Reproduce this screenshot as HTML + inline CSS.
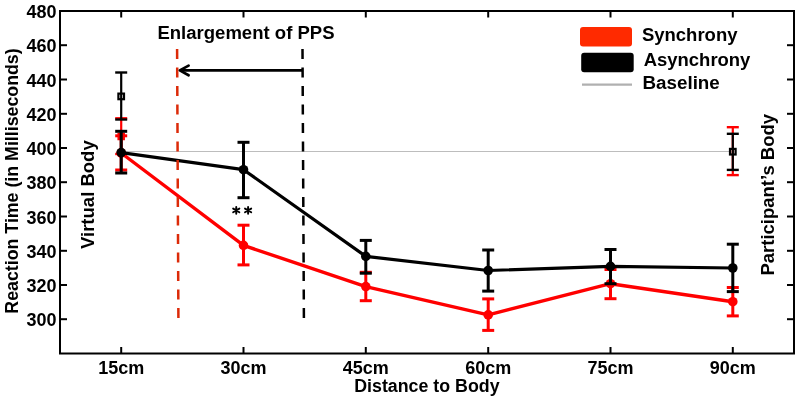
<!DOCTYPE html><html><head><meta charset="utf-8"><style>html,body{margin:0;padding:0;background:#fff;}svg{display:block;will-change:transform;}text{font-family:"Liberation Sans",sans-serif;font-weight:bold;font-size:18px;fill:#000;}</style></head><body>
<svg width="800" height="401" viewBox="0 0 800 401">
<rect x="0" y="0" width="800" height="401" fill="#fff"/>
<line x1="121.2" y1="151.5" x2="729.5" y2="151.5" stroke="#bdbdbd" stroke-width="1"/>
<line x1="121.2" y1="118.3" x2="121.2" y2="154.0" stroke="#ff0000" stroke-width="2.2"/><line x1="115.2" y1="118.3" x2="127.2" y2="118.3" stroke="#ff0000" stroke-width="2.4"/><line x1="115.2" y1="154.0" x2="127.2" y2="154.0" stroke="#ff0000" stroke-width="2.4"/>
<rect x="118.2" y="133.5" width="6" height="6" fill="#ff0000" stroke="#ff0000" stroke-width="1.5"/>
<line x1="732.8" y1="127.2" x2="732.8" y2="175.1" stroke="#ff0000" stroke-width="2.2"/><line x1="726.8" y1="127.2" x2="738.8" y2="127.2" stroke="#ff0000" stroke-width="2.4"/><line x1="726.8" y1="175.1" x2="738.8" y2="175.1" stroke="#ff0000" stroke-width="2.4"/>
<polyline points="121.2,153.0 243.5,245.4 365.8,286.6 488.2,314.9 610.5,283.7 732.8,301.7" fill="none" stroke="#ff0000" stroke-width="3.4" stroke-linejoin="round"/>
<line x1="121.2" y1="135.8" x2="121.2" y2="170.0" stroke="#ff0000" stroke-width="3.0"/><line x1="115.2" y1="135.8" x2="127.2" y2="135.8" stroke="#ff0000" stroke-width="3.0"/><line x1="115.2" y1="170.0" x2="127.2" y2="170.0" stroke="#ff0000" stroke-width="3.0"/>
<circle cx="121.2" cy="153.0" r="4.8" fill="#ff0000"/>
<line x1="243.5" y1="225.2" x2="243.5" y2="264.9" stroke="#ff0000" stroke-width="3.0"/><line x1="237.5" y1="225.2" x2="249.5" y2="225.2" stroke="#ff0000" stroke-width="3.0"/><line x1="237.5" y1="264.9" x2="249.5" y2="264.9" stroke="#ff0000" stroke-width="3.0"/>
<circle cx="243.5" cy="245.4" r="4.8" fill="#ff0000"/>
<line x1="365.8" y1="272.3" x2="365.8" y2="300.7" stroke="#ff0000" stroke-width="3.0"/><line x1="359.8" y1="272.3" x2="371.8" y2="272.3" stroke="#ff0000" stroke-width="3.0"/><line x1="359.8" y1="300.7" x2="371.8" y2="300.7" stroke="#ff0000" stroke-width="3.0"/>
<circle cx="365.8" cy="286.6" r="4.8" fill="#ff0000"/>
<line x1="488.2" y1="298.9" x2="488.2" y2="330.4" stroke="#ff0000" stroke-width="3.0"/><line x1="482.2" y1="298.9" x2="494.2" y2="298.9" stroke="#ff0000" stroke-width="3.0"/><line x1="482.2" y1="330.4" x2="494.2" y2="330.4" stroke="#ff0000" stroke-width="3.0"/>
<circle cx="488.2" cy="314.9" r="4.8" fill="#ff0000"/>
<line x1="610.5" y1="269.5" x2="610.5" y2="298.7" stroke="#ff0000" stroke-width="3.0"/><line x1="604.5" y1="269.5" x2="616.5" y2="269.5" stroke="#ff0000" stroke-width="3.0"/><line x1="604.5" y1="298.7" x2="616.5" y2="298.7" stroke="#ff0000" stroke-width="3.0"/>
<circle cx="610.5" cy="283.7" r="4.8" fill="#ff0000"/>
<line x1="732.8" y1="287.5" x2="732.8" y2="315.9" stroke="#ff0000" stroke-width="3.0"/><line x1="726.8" y1="287.5" x2="738.8" y2="287.5" stroke="#ff0000" stroke-width="3.0"/><line x1="726.8" y1="315.9" x2="738.8" y2="315.9" stroke="#ff0000" stroke-width="3.0"/>
<circle cx="732.8" cy="301.7" r="4.8" fill="#ff0000"/>
<polyline points="121.2,152.6 243.5,169.7 365.8,256.4 488.2,270.5 610.5,266.4 732.8,268.0" fill="none" stroke="#000" stroke-width="3.2" stroke-linejoin="round"/>
<line x1="121.2" y1="131.3" x2="121.2" y2="173.0" stroke="#000" stroke-width="3.0"/><line x1="115.2" y1="131.3" x2="127.2" y2="131.3" stroke="#000" stroke-width="3.0"/><line x1="115.2" y1="173.0" x2="127.2" y2="173.0" stroke="#000" stroke-width="3.0"/>
<circle cx="121.2" cy="152.6" r="4.8" fill="#000"/>
<line x1="243.5" y1="142.3" x2="243.5" y2="197.7" stroke="#000" stroke-width="3.0"/><line x1="237.5" y1="142.3" x2="249.5" y2="142.3" stroke="#000" stroke-width="3.0"/><line x1="237.5" y1="197.7" x2="249.5" y2="197.7" stroke="#000" stroke-width="3.0"/>
<circle cx="243.5" cy="169.7" r="4.8" fill="#000"/>
<line x1="365.8" y1="240.4" x2="365.8" y2="273.2" stroke="#000" stroke-width="3.0"/><line x1="359.8" y1="240.4" x2="371.8" y2="240.4" stroke="#000" stroke-width="3.0"/><line x1="359.8" y1="273.2" x2="371.8" y2="273.2" stroke="#000" stroke-width="3.0"/>
<circle cx="365.8" cy="256.4" r="4.8" fill="#000"/>
<line x1="488.2" y1="250.0" x2="488.2" y2="291.1" stroke="#000" stroke-width="3.0"/><line x1="482.2" y1="250.0" x2="494.2" y2="250.0" stroke="#000" stroke-width="3.0"/><line x1="482.2" y1="291.1" x2="494.2" y2="291.1" stroke="#000" stroke-width="3.0"/>
<circle cx="488.2" cy="270.5" r="4.8" fill="#000"/>
<line x1="610.5" y1="249.5" x2="610.5" y2="283.7" stroke="#000" stroke-width="3.0"/><line x1="604.5" y1="249.5" x2="616.5" y2="249.5" stroke="#000" stroke-width="3.0"/><line x1="604.5" y1="283.7" x2="616.5" y2="283.7" stroke="#000" stroke-width="3.0"/>
<circle cx="610.5" cy="266.4" r="4.8" fill="#000"/>
<line x1="732.8" y1="244.2" x2="732.8" y2="291.6" stroke="#000" stroke-width="3.0"/><line x1="726.8" y1="244.2" x2="738.8" y2="244.2" stroke="#000" stroke-width="3.0"/><line x1="726.8" y1="291.6" x2="738.8" y2="291.6" stroke="#000" stroke-width="3.0"/>
<circle cx="732.8" cy="268.0" r="4.8" fill="#000"/>
<line x1="121.2" y1="72.5" x2="121.2" y2="119.5" stroke="#000" stroke-width="2.2"/><line x1="115.2" y1="72.5" x2="127.2" y2="72.5" stroke="#000" stroke-width="2.4"/><line x1="115.2" y1="119.5" x2="127.2" y2="119.5" stroke="#000" stroke-width="2.4"/>
<rect x="118.4" y="93.6" width="5.6" height="5.6" fill="none" stroke="#000" stroke-width="2.2"/>
<line x1="732.8" y1="133.8" x2="732.8" y2="169.9" stroke="#000" stroke-width="2.2"/><line x1="726.8" y1="133.8" x2="738.8" y2="133.8" stroke="#000" stroke-width="2.4"/><line x1="726.8" y1="169.9" x2="738.8" y2="169.9" stroke="#000" stroke-width="2.4"/>
<rect x="730.0" y="148.9" width="5.6" height="5.6" fill="none" stroke="#000" stroke-width="2.2"/>
<line x1="177.1" y1="49.0" x2="178.4" y2="318.3" stroke="#dc2a08" stroke-width="2.5" stroke-dasharray="10 8.5"/>
<line x1="302.5" y1="49.0" x2="303.9" y2="318.3" stroke="#000" stroke-width="2.5" stroke-dasharray="10 8.5"/>
<line x1="303" y1="70.4" x2="180" y2="70.4" stroke="#000" stroke-width="2.7"/>
<polyline points="188.6,65.6 179.8,70.4 188.6,75.3" fill="none" stroke="#000" stroke-width="2.7" stroke-linejoin="round" stroke-linecap="round"/>
<path d="M236.25 207.00V213.80M233.15 208.60L239.35 212.20M233.15 212.20L239.35 208.60" stroke="#000" stroke-width="1.9" stroke-linecap="round" fill="none"/>
<path d="M248.10 207.00V213.80M245.00 208.60L251.20 212.20M245.00 212.20L251.20 208.60" stroke="#000" stroke-width="1.9" stroke-linecap="round" fill="none"/>
<rect x="60" y="11" width="734" height="342.5" fill="none" stroke="#000" stroke-width="2"/>
<line x1="121.2" y1="11" x2="121.2" y2="17.5" stroke="#000" stroke-width="2"/>
<line x1="121.2" y1="353.5" x2="121.2" y2="347" stroke="#000" stroke-width="2"/>
<text x="121.2" y="374.4" text-anchor="middle">15cm</text>
<line x1="243.5" y1="11" x2="243.5" y2="17.5" stroke="#000" stroke-width="2"/>
<line x1="243.5" y1="353.5" x2="243.5" y2="347" stroke="#000" stroke-width="2"/>
<text x="243.5" y="374.4" text-anchor="middle">30cm</text>
<line x1="365.8" y1="11" x2="365.8" y2="17.5" stroke="#000" stroke-width="2"/>
<line x1="365.8" y1="353.5" x2="365.8" y2="347" stroke="#000" stroke-width="2"/>
<text x="365.8" y="374.4" text-anchor="middle">45cm</text>
<line x1="488.2" y1="11" x2="488.2" y2="17.5" stroke="#000" stroke-width="2"/>
<line x1="488.2" y1="353.5" x2="488.2" y2="347" stroke="#000" stroke-width="2"/>
<text x="488.2" y="374.4" text-anchor="middle">60cm</text>
<line x1="610.5" y1="11" x2="610.5" y2="17.5" stroke="#000" stroke-width="2"/>
<line x1="610.5" y1="353.5" x2="610.5" y2="347" stroke="#000" stroke-width="2"/>
<text x="610.5" y="374.4" text-anchor="middle">75cm</text>
<line x1="732.8" y1="11" x2="732.8" y2="17.5" stroke="#000" stroke-width="2"/>
<line x1="732.8" y1="353.5" x2="732.8" y2="347" stroke="#000" stroke-width="2"/>
<text x="732.8" y="374.4" text-anchor="middle">90cm</text>
<line x1="60" y1="319.2" x2="67" y2="319.2" stroke="#000" stroke-width="2"/>
<line x1="794" y1="319.2" x2="787" y2="319.2" stroke="#000" stroke-width="2"/>
<text x="56.5" y="326.4" text-anchor="end">300</text>
<line x1="60" y1="285.0" x2="67" y2="285.0" stroke="#000" stroke-width="2"/>
<line x1="794" y1="285.0" x2="787" y2="285.0" stroke="#000" stroke-width="2"/>
<text x="56.5" y="292.1" text-anchor="end">320</text>
<line x1="60" y1="250.8" x2="67" y2="250.8" stroke="#000" stroke-width="2"/>
<line x1="794" y1="250.8" x2="787" y2="250.8" stroke="#000" stroke-width="2"/>
<text x="56.5" y="257.9" text-anchor="end">340</text>
<line x1="60" y1="216.5" x2="67" y2="216.5" stroke="#000" stroke-width="2"/>
<line x1="794" y1="216.5" x2="787" y2="216.5" stroke="#000" stroke-width="2"/>
<text x="56.5" y="223.6" text-anchor="end">360</text>
<line x1="60" y1="182.2" x2="67" y2="182.2" stroke="#000" stroke-width="2"/>
<line x1="794" y1="182.2" x2="787" y2="182.2" stroke="#000" stroke-width="2"/>
<text x="56.5" y="189.3" text-anchor="end">380</text>
<line x1="60" y1="148.0" x2="67" y2="148.0" stroke="#000" stroke-width="2"/>
<line x1="794" y1="148.0" x2="787" y2="148.0" stroke="#000" stroke-width="2"/>
<text x="56.5" y="155.1" text-anchor="end">400</text>
<line x1="60" y1="113.8" x2="67" y2="113.8" stroke="#000" stroke-width="2"/>
<line x1="794" y1="113.8" x2="787" y2="113.8" stroke="#000" stroke-width="2"/>
<text x="56.5" y="120.8" text-anchor="end">420</text>
<line x1="60" y1="79.5" x2="67" y2="79.5" stroke="#000" stroke-width="2"/>
<line x1="794" y1="79.5" x2="787" y2="79.5" stroke="#000" stroke-width="2"/>
<text x="56.5" y="86.6" text-anchor="end">440</text>
<line x1="60" y1="45.2" x2="67" y2="45.2" stroke="#000" stroke-width="2"/>
<line x1="794" y1="45.2" x2="787" y2="45.2" stroke="#000" stroke-width="2"/>
<text x="56.5" y="52.4" text-anchor="end">460</text>
<line x1="60" y1="11.0" x2="67" y2="11.0" stroke="#000" stroke-width="2"/>
<line x1="794" y1="11.0" x2="787" y2="11.0" stroke="#000" stroke-width="2"/>
<text x="56.5" y="18.1" text-anchor="end">480</text>
<text x="426.9" y="391.8" text-anchor="middle" textLength="145.3" lengthAdjust="spacingAndGlyphs">Distance to Body</text>
<text transform="translate(18,181) rotate(-90)" text-anchor="middle" textLength="265.3" lengthAdjust="spacingAndGlyphs">Reaction Time (in Milliseconds)</text>
<text transform="translate(94.0,194.65) rotate(-90)" text-anchor="middle" textLength="108.8" lengthAdjust="spacingAndGlyphs">Virtual Body</text>
<text transform="translate(773.8,194.75) rotate(-90)" text-anchor="middle" textLength="161.5" lengthAdjust="spacingAndGlyphs">Participant’s Body</text>
<text x="157.45" y="38.75" textLength="177.1" lengthAdjust="spacingAndGlyphs">Enlargement of PPS</text>
<rect x="580" y="27" width="52" height="19.4" rx="3" fill="#ff2a00"/>
<rect x="581.2" y="52.8" width="52.5" height="19.5" rx="3" fill="#000"/>
<line x1="582" y1="84.7" x2="632" y2="84.7" stroke="#b0b0b0" stroke-width="2.2"/>
<text x="641.9" y="40.5" textLength="95.6" lengthAdjust="spacingAndGlyphs">Synchrony</text>
<text x="643.7" y="65.5" textLength="106.7" lengthAdjust="spacingAndGlyphs">Asynchrony</text>
<text x="642.5" y="88.5" textLength="77.3" lengthAdjust="spacingAndGlyphs">Baseline</text>
</svg></body></html>
